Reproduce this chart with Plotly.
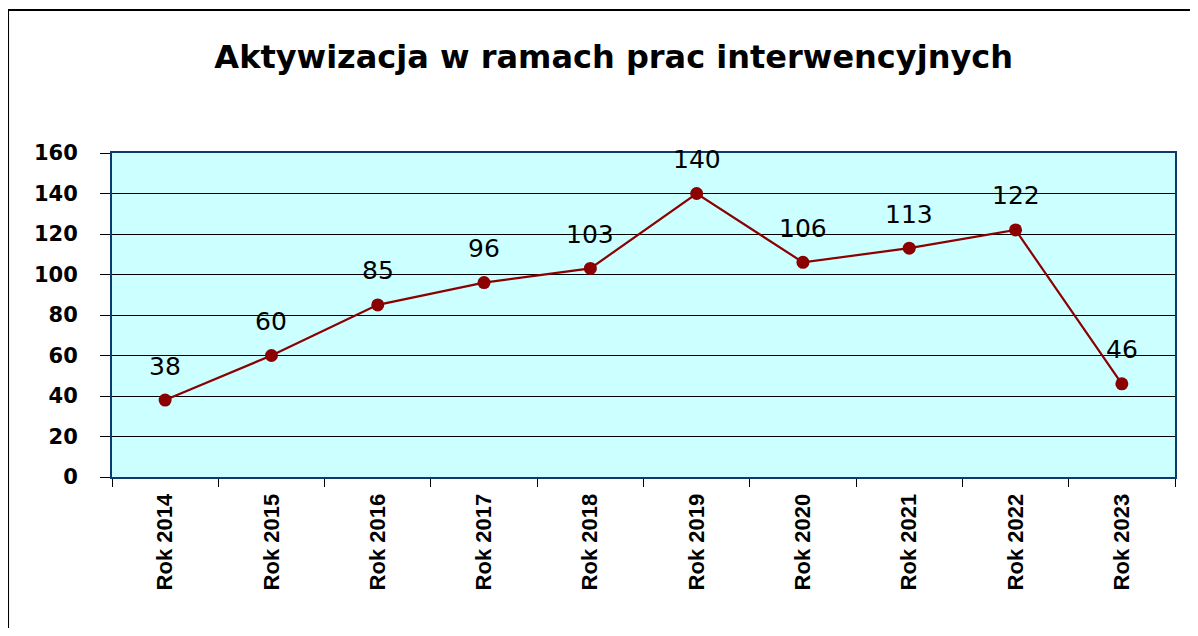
import plotly.graph_objects as go

categories = ["Rok 2014", "Rok 2015", "Rok 2016", "Rok 2017", "Rok 2018",
              "Rok 2019", "Rok 2020", "Rok 2021", "Rok 2022", "Rok 2023"]
values = [38, 60, 85, 96, 103, 140, 106, 113, 122, 46]
y_ticks = [0, 20, 40, 60, 80, 100, 120, 140, 160]
title_text = "Aktywizacja w ramach prac interwencyjnych"

line_color = "#8B0000"

fig = go.Figure()
fig.add_trace(go.Scatter(
    x=categories, y=values, mode="lines+markers",
    line=dict(color=line_color, width=2.2),
    marker=dict(color=line_color, size=13),
    hoverinfo="x+y", showlegend=False,
))

for c, v in zip(categories, values):
    fig.add_annotation(x=c, y=v, text=str(v), showarrow=False,
                       yshift=34, font=dict(family="DejaVu Sans", size=25, color="#000000"))

fig.update_layout(
    width=1190, height=620,
    margin=dict(l=104, r=23, t=145, b=151),
    paper_bgcolor="#FFFFFF",
    plot_bgcolor="#CCFFFF",
    title=dict(text="<b>" + title_text + "</b>", x=0.509, xanchor="center",
               y=0.921, yanchor="middle",
               font=dict(family="DejaVu Sans", size=32, color="#000000")),
    xaxis=dict(
        type="category", range=[-0.5, 9.5],
        showline=True, linecolor="#0B3A6B", linewidth=2, mirror=True,
        ticks="outside", ticklen=8, tickcolor="#000000", tickwidth=1,
        tickson="boundaries",
        tickangle=-90, showgrid=False,
        tickfont=dict(family="Liberation Sans Narrow, Arial Narrow, Liberation Sans", size=22, color="#000000", weight="bold"),
        ticklabelstandoff=6,
    ),
    yaxis=dict(
        range=[0, 160], tickvals=y_ticks, ticktext=[str(t) for t in y_ticks],
        showline=True, linecolor="#0B3A6B", linewidth=2, mirror=True,
        ticks="outside", ticklen=10, tickcolor="#000000", tickwidth=1,
        showgrid=True, gridcolor="#000000", gridwidth=1,
        zeroline=False,
        tickfont=dict(family="DejaVu Sans", size=21, color="#000000", weight="bold"),
        ticklabelstandoff=18,
    ),
    shapes=[dict(type="rect", xref="paper", yref="paper",
                 x0=-0.0978, x1=1.06, y0=-0.6, y1=1.441,
                 line=dict(color="#000000", width=2), fillcolor="rgba(0,0,0,0)",
                 layer="below")],
)

fig.write_html("out.html")
